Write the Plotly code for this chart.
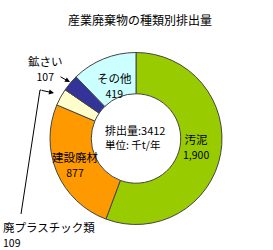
import plotly.graph_objects as go

categories = ["汚泥", "建設廃材", "廃プラスチック類", "鉱さい", "その他"]
values = [1900, 877, 109, 107, 419]
value_labels = ["1,900", "877", "109", "107", "419"]
colors = ["#99CC00", "#FF9900", "#FFFFCC", "#333399", "#CCFFFF"]
title_text = "産業廃棄物の種類別排出量"
center_lines = ["排出量:3412", "単位: 千t/年"]

W, H = 273, 250
FONT = "Noto Sans CJK JP"

def px(x):
    return x / W

def py(y):
    return 1 - y / H

fig = go.Figure(go.Pie(
    labels=categories,
    values=values,
    marker=dict(colors=colors, line=dict(color="#444444", width=1)),
    hole=0.52,
    sort=False,
    direction="clockwise",
    rotation=0,
    textinfo="none",
    hoverinfo="label+value",
    domain=dict(x=[px(50), px(222)], y=[py(225), py(52)]),
    showlegend=False,
))

# (center x, center y of two-line block, alignment)
label_pos = {
    "汚泥": (196, 146, "center"),
    "建設廃材": (75, 164, "center"),
    "その他": (114, 85, "center"),
    "鉱さい": (45, 68, "center"),
    "廃プラスチック類": (2, 234, "left"),
}

ann = []
for cat, vl in zip(categories, value_labels):
    x, y, al = label_pos[cat]
    txt = f"{cat}<br><span style='font-size:10.5px'>{vl}</span>"
    ann.append(dict(x=px(x), y=py(y), xref="paper", yref="paper", text=txt,
                    showarrow=False, xanchor="left" if al == "left" else "center",
                    align=al, yanchor="middle", borderpad=0,
                    font=dict(size=11.5, family=FONT, color="#000")))

# title
ann.append(dict(x=px(140), y=py(20), xref="paper", yref="paper", text=title_text,
                showarrow=False, xanchor="center", yanchor="middle",
                font=dict(size=12, family=FONT, color="#000")))
# center text
ann.append(dict(x=px(135), y=py(137), xref="paper", yref="paper",
                text=f"{center_lines[0]}<br><span style='font-size:10.5px'>{center_lines[1]}</span>",
                showarrow=False, xanchor="center", yanchor="middle", borderpad=0,
                align="left", font=dict(size=11, family=FONT, color="#000")))

# arrows
ann.append(dict(x=px(70), y=py(82), xref="paper", yref="paper", text="",
                showarrow=True, ax=-11, ay=-6, arrowhead=2, arrowsize=1,
                arrowwidth=1, arrowcolor="#000"))
ann.append(dict(x=px(54), y=py(93), xref="paper", yref="paper", text="",
                showarrow=True, ax=-14, ay=-3, arrowhead=2, arrowsize=1,
                arrowwidth=1, arrowcolor="#000"))

shapes = [dict(type="path", xref="paper", yref="paper",
               path=f"M {px(21)},{py(214)} L {px(40)},{py(90)} L {px(41)},{py(90)}",
               line=dict(color="#000", width=1))]

fig.update_layout(
    width=W, height=H,
    margin=dict(l=0, r=0, t=0, b=0),
    paper_bgcolor="white",
    plot_bgcolor="white",
    annotations=ann,
    shapes=shapes,
    font=dict(family=FONT),
)

fig.write_html("out.html")
